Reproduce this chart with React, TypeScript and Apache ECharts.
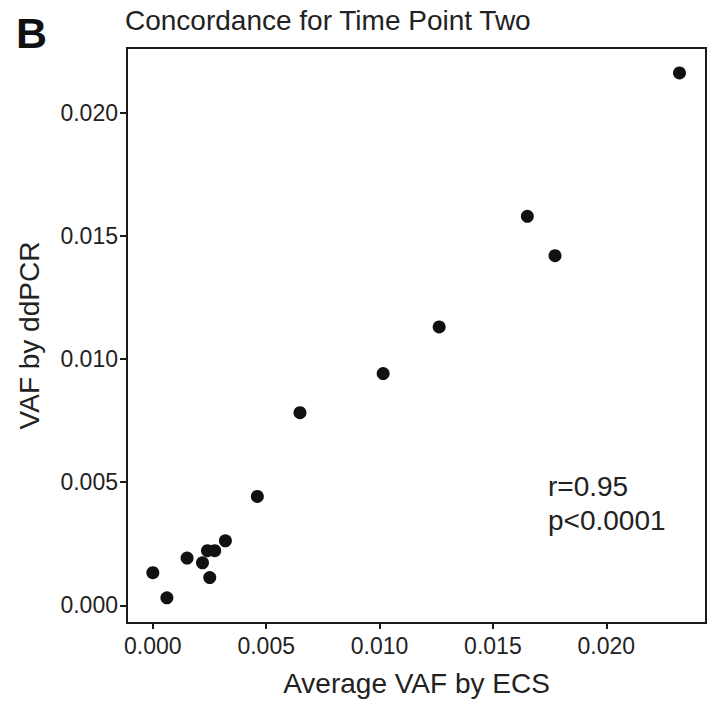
import React, { useEffect, useRef } from "react";
import * as echarts from "echarts";

const ecsValues = [0.0, 0.00062, 0.00151, 0.00219, 0.00241, 0.00273, 0.00251, 0.0032, 0.00461, 0.00649, 0.01016, 0.01263, 0.01652, 0.01774, 0.02323];
const ddpcrValues = [0.00133, 0.00031, 0.00192, 0.00173, 0.00222, 0.00222, 0.00113, 0.00262, 0.00442, 0.00782, 0.00941, 0.0113, 0.01579, 0.01419, 0.02161];
const tickValues = [0, 0.005, 0.01, 0.015, 0.02];
const titleText = "Concordance for Time Point Two";
const panelLabel = "B";
const statLines = ["r=0.95", "p<0.0001"];

const FONT = "'Liberation Sans', Arial, Helvetica, sans-serif";

export default function App() {
  const ref = useRef<HTMLDivElement>(null);
  useEffect(() => {
    document.body.style.margin = "0";
    const chart = echarts.init(ref.current!, null, { renderer: "svg" });
    const points = ecsValues.map((x, i) => [x, ddpcrValues[i]]);
    chart.setOption({
      animation: false,
      backgroundColor: "#ffffff",
      textStyle: { fontFamily: FONT },
      grid: {
        left: 127,
        right: 8,
        top: 48,
        bottom: 75,
        show: true,
        borderColor: "#1a1a1a",
        borderWidth: 2,
        containLabel: false,
      },
      xAxis: {
        type: "value",
        min: -0.00114,
        max: 0.0244,
        name: "Average VAF by ECS",
        nameLocation: "middle",
        nameGap: 46,
        nameTextStyle: { fontSize: 28, color: "#222", fontFamily: FONT },
        axisLine: { show: true, onZero: false, lineStyle: { color: "#1a1a1a", width: 2 } },
        axisTick: { show: true, customValues: tickValues, length: 6, lineStyle: { color: "#1a1a1a", width: 2 } },
        axisLabel: {
          customValues: tickValues,
          formatter: (v: number) => v.toFixed(3),
          fontSize: 23,
          color: "#222",
          margin: 11,
          fontFamily: FONT,
        },
        splitLine: { show: false },
      },
      yAxis: {
        type: "value",
        min: -0.000714,
        max: 0.02262,
        name: "VAF by ddPCR",
        nameLocation: "middle",
        nameGap: 84,
        nameRotate: 90,
        nameTextStyle: { fontSize: 28, color: "#222", fontFamily: FONT },
        axisLine: { show: true, onZero: false, lineStyle: { color: "#1a1a1a", width: 2 } },
        axisTick: { show: true, customValues: tickValues, length: 7, lineStyle: { color: "#1a1a1a", width: 2 } },
        axisLabel: {
          customValues: tickValues,
          formatter: (v: number) => v.toFixed(3),
          fontSize: 23,
          color: "#222",
          margin: 9,
          fontFamily: FONT,
        },
        splitLine: { show: false },
      },
      graphic: [
        {
          type: "text",
          left: 16,
          top: 11,
          style: { text: panelLabel, fontSize: 43, fontWeight: "bold", fill: "#111", fontFamily: FONT },
        },
        {
          type: "text",
          left: 125,
          top: 6,
          style: { text: titleText, fontSize: 28, fill: "#222", fontFamily: FONT },
        },
        {
          type: "text",
          left: 548,
          top: 469,
          style: { text: statLines.join("\n"), fontSize: 28, lineHeight: 34, fill: "#222", fontFamily: FONT },
        },
      ],
      series: [
        {
          type: "scatter",
          data: points,
          symbol: "circle",
          symbolSize: 13,
          itemStyle: { color: "#111111", opacity: 1 },
        },
      ],
    });
    return () => chart.dispose();
  }, []);
  return <div ref={ref} style={{ position: "absolute", left: 0, top: 0, width: 714, height: 702 }} />;
}
